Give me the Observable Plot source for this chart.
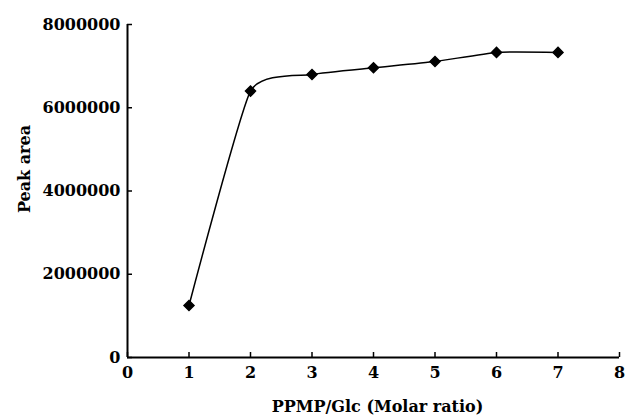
<!DOCTYPE html>
<html>
<head>
<meta charset="utf-8">
<script src="https://cdn.jsdelivr.net/npm/d3@7"></script>
<script src="https://cdn.jsdelivr.net/npm/@observablehq/plot@0.6"></script>
<style>
  html, body { margin: 0; padding: 0; background: #fff; }
</style>
</head>
<body>
<div id="chart"></div>
<script>
const ratio = [1, 2, 3, 4, 5, 6, 7];
const peakArea = [1250000, 6400000, 6800000, 6960000, 7110000, 7330000, 7330000];
const xTicks = [0, 1, 2, 3, 4, 5, 6, 7, 8];
const yTicks = [0, 2000000, 4000000, 6000000, 8000000];
const xLabel = ["PPMP/Glc (Molar ratio)"];
const yLabel = ["Peak area"];

const data = ratio.map((r, i) => ({ratio: r, area: peakArea[i]}));
const font = {fontFamily: "DejaVu Serif", fontWeight: "bold", fontSize: 16};

const chart = Plot.plot({
  width: 625,
  height: 416,
  marginLeft: 127,
  marginRight: 6,
  marginTop: 24,
  marginBottom: 59,
  style: {background: "#fff", color: "#000", fontFamily: "DejaVu Serif"},
  x: {domain: [0, 8]},
  y: {domain: [0, 8000000]},
  marks: [
    Plot.axisY({ticks: yTicks, tickSize: -5, tickPadding: 12, strokeWidth: 1.5,
      tickFormat: d => String(d), ...font, label: null}),
    Plot.axisX({ticks: xTicks, tickSize: -5, tickPadding: 14, strokeWidth: 1.5,
      tickFormat: d => String(d), ...font, label: null}),
    Plot.text(yLabel, {frameAnchor: "left", rotate: -90, dx: -103, dy: -22,
      textAnchor: "middle", lineAnchor: "middle", ...font, fill: "#000"}),
    Plot.text(xLabel, {frameAnchor: "bottom", dx: 4, dy: 49,
      textAnchor: "middle", lineAnchor: "middle", ...font, fill: "#000"}),
    Plot.ruleX([0], {stroke: "#000", strokeWidth: 2}),
    Plot.ruleY([0], {stroke: "#000", strokeWidth: 2}),
    Plot.line(data, {x: "ratio", y: "area", curve: "cardinal", tension: 0.5, stroke: "#000", strokeWidth: 1.5}),
    Plot.dot(data, {x: "ratio", y: "area", symbol: "diamond2", r: 4.5, fill: "#000", stroke: "#000"})
  ]
});
document.getElementById("chart").appendChild(chart);
</script>
</body>
</html>
